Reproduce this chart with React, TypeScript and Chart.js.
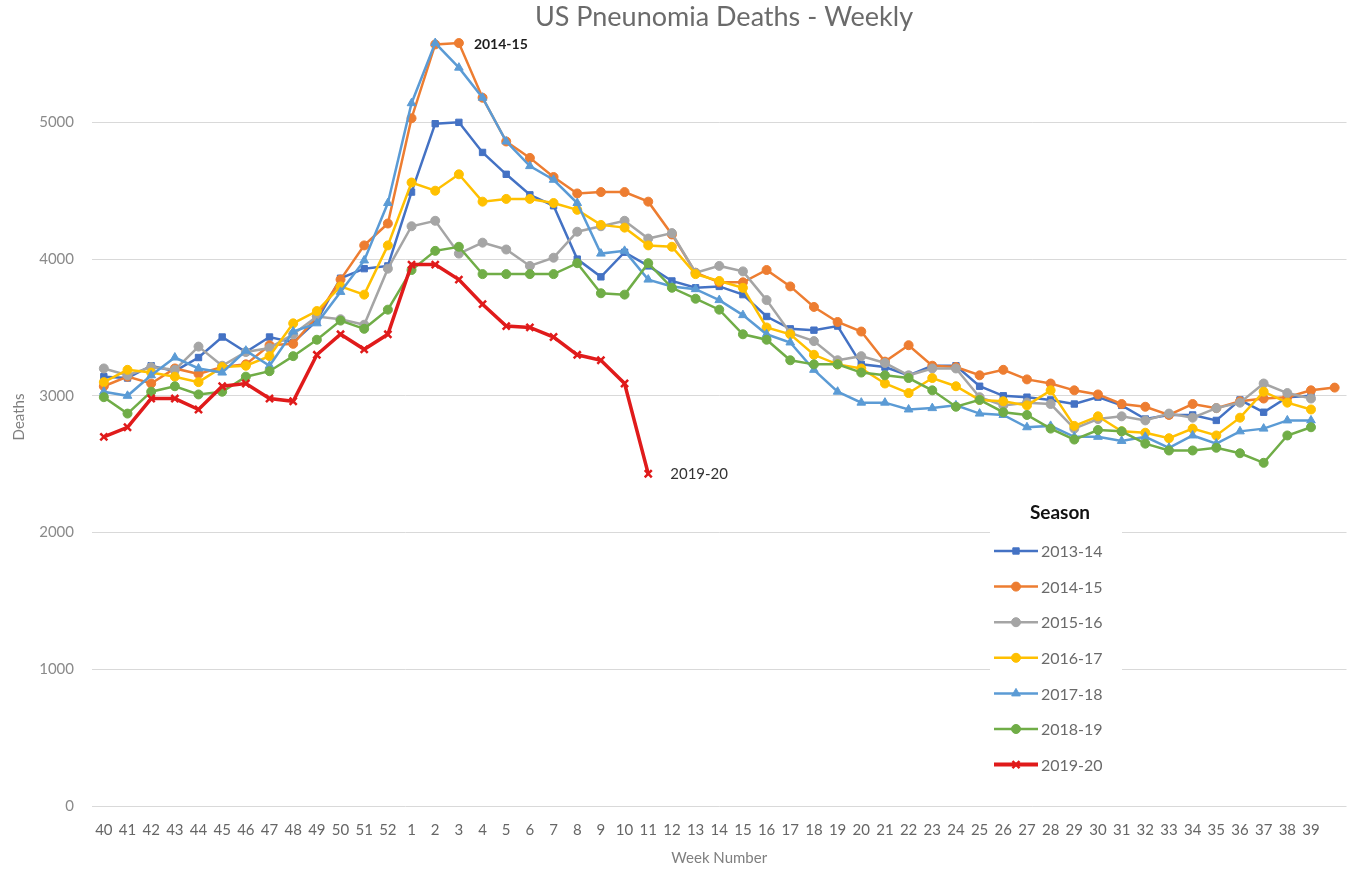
import React, { useEffect, useRef } from "react";
import { Chart, registerables } from "chart.js";
import { drawPoint } from "chart.js/helpers";

Chart.register(...registerables);

const weeks = [
  "40", "41", "42", "43", "44", "45", "46", "47", "48", "49", "50", "51", "52",
  "1", "2", "3", "4", "5", "6", "7", "8", "9", "10", "11", "12", "13", "14", "15",
  "16", "17", "18", "19", "20", "21", "22", "23", "24", "25", "26", "27", "28", "29",
  "30", "31", "32", "33", "34", "35", "36", "37", "38", "39", "",
];

const s2013_14 = [
  3140, 3130, 3220, 3180, 3280, 3430, 3320, 3430, 3390, 3550, 3860, 3930, 3950,
  4490, 4990, 5000, 4780, 4620, 4470, 4390, 4000, 3870, 4050, 3950, 3840, 3790, 3800, 3740,
  3580, 3490, 3480, 3510, 3230, 3210, 3150, 3220, 3220, 3070, 3000, 2990, 2970, 2940,
  2990, 2930, 2830, 2860, 2860, 2820, 2970, 2880, 2990, 3000,
];
const s2014_15 = [
  3070, 3140, 3090, 3200, 3160, 3210, 3230, 3370, 3380, 3580, 3850, 4100, 4260,
  5030, 5570, 5580, 5180, 4860, 4740, 4600, 4480, 4490, 4490, 4420, 4180, 3900, 3830, 3830,
  3920, 3800, 3650, 3540, 3470, 3250, 3370, 3220, 3210, 3150, 3190, 3120, 3090, 3040,
  3010, 2940, 2920, 2860, 2940, 2910, 2960, 2980, 2990, 3040, 3060,
];
const s2015_16 = [
  3200, 3150, 3210, 3190, 3360, 3220, 3320, 3350, 3450, 3580, 3560, 3520, 3930,
  4240, 4280, 4040, 4120, 4070, 3950, 4010, 4200, 4240, 4280, 4150, 4190, 3900, 3950, 3910,
  3700, 3460, 3400, 3260, 3290, 3240, 3150, 3200, 3200, 2990, 2930, 2950, 2940, 2760,
  2830, 2850, 2820, 2870, 2840, 2910, 2950, 3090, 3020, 2980,
];
const s2016_17 = [
  3100, 3190, 3170, 3140, 3100, 3210, 3220, 3290, 3530, 3620, 3800, 3740, 4100,
  4560, 4500, 4620, 4420, 4440, 4440, 4410, 4360, 4250, 4230, 4100, 4090, 3890, 3840, 3790,
  3500, 3450, 3300, 3230, 3200, 3090, 3020, 3130, 3070, 2970, 2960, 2930, 3040, 2780,
  2850, 2740, 2730, 2690, 2760, 2710, 2840, 3030, 2950, 2900,
];
const s2017_18 = [
  3030, 3000, 3150, 3280, 3200, 3170, 3330, 3220, 3470, 3530, 3760, 3990, 4410,
  5140, 5580, 5400, 5180, 4860, 4680, 4580, 4410, 4040, 4060, 3850, 3800, 3780, 3700, 3590,
  3450, 3390, 3190, 3030, 2950, 2950, 2900, 2910, 2930, 2870, 2860, 2770, 2780, 2700,
  2700, 2670, 2700, 2620, 2710, 2650, 2740, 2760, 2820, 2820,
];
const s2018_19 = [
  2990, 2870, 3030, 3070, 3010, 3030, 3140, 3180, 3290, 3410, 3550, 3490, 3630,
  3920, 4060, 4090, 3890, 3890, 3890, 3890, 3970, 3750, 3740, 3970, 3790, 3710, 3630, 3450,
  3410, 3260, 3230, 3230, 3170, 3150, 3130, 3040, 2920, 2970, 2880, 2860, 2760, 2680,
  2750, 2740, 2650, 2600, 2600, 2620, 2580, 2510, 2710, 2770,
];
const s2019_20 = [
  2700, 2770, 2980, 2980, 2900, 3070, 3090, 2980, 2960, 3300, 3450, 3340, 3450,
  3960, 3960, 3850, 3670, 3510, 3500, 3430, 3300, 3260, 3090, 2430,
];

const seasonNames = ["2013-14", "2014-15", "2015-16", "2016-17", "2017-18", "2018-19", "2019-20"];
const seasonData = [s2013_14, s2014_15, s2015_16, s2016_17, s2017_18, s2018_19, s2019_20];
const seasonColors = ["#4472C4", "#ED7D31", "#A5A5A5", "#FFC000", "#5B9BD5", "#70AD47", "#E01B1B"];
const seasonMarkers = ["rect", "circle", "circle", "circle", "triangle", "circle", "crossRot"];

const yTicks = [0, 1000, 2000, 3000, 4000, 5000];

const FONT = "Lato, 'Open Sans', sans-serif";

const overlayPlugin = {
  id: "overlay",
  afterDraw(chart: any) {
    const ctx = chart.ctx;
    ctx.save();
    // Title
    ctx.fillStyle = "#6b6b6b";
    ctx.font = `27px ${FONT}`;
    ctx.textAlign = "center";
    ctx.textBaseline = "middle";
    ctx.fillText("US Pneunomia Deaths - Weekly", 724, 17);

    // Series end labels
    const m1 = chart.getDatasetMeta(1).data[15];
    ctx.font = `bold 14px ${FONT}`;
    ctx.fillStyle = "#1e1e1e";
    ctx.textAlign = "left";
    ctx.fillText("2014-15", m1.x + 15, m1.y + 1);
    const m6 = chart.getDatasetMeta(6).data[s2019_20.length - 1];
    ctx.font = `15px ${FONT}`;
    ctx.fillStyle = "#333333";
    ctx.fillText("2019-20", m6.x + 22, m6.y);

    // Legend
    ctx.fillStyle = "#ffffff";
    ctx.fillRect(990, 497, 132, 285);
    ctx.fillStyle = "#111111";
    ctx.font = `bold 19px ${FONT}`;
    ctx.textAlign = "center";
    ctx.fillText("Season", 1060, 513);
    const y0 = 551;
    const step = 35.6;
    seasonNames.forEach((name, i) => {
      const y = y0 + i * step;
      const ds = chart.data.datasets[i];
      ctx.strokeStyle = seasonColors[i];
      ctx.lineWidth = i === 6 ? 4 : 2.5;
      ctx.beginPath();
      ctx.moveTo(994, y);
      ctx.lineTo(1038, y);
      ctx.stroke();
      ctx.fillStyle = seasonColors[i];
      ctx.strokeStyle = seasonColors[i];
      ctx.lineWidth = ds.pointBorderWidth;
      drawPoint(ctx, { pointStyle: seasonMarkers[i], radius: ds.pointRadius, borderWidth: ds.pointBorderWidth, rotation: 0 }, 1016, y);
      ctx.fillStyle = "#6a6a6a";
      ctx.font = `16px ${FONT}`;
      ctx.textAlign = "left";
      ctx.fillText(name, 1041, y + 1);
    });
    ctx.restore();
  },
};

export default function App() {
  const ref = useRef<HTMLCanvasElement | null>(null);

  useEffect(() => {
    if (!ref.current) return;
    const datasets = seasonNames.map((name, i) => ({
      label: name,
      data: seasonData[i],
      borderColor: seasonColors[i],
      backgroundColor: seasonColors[i],
      borderWidth: i === 6 ? 3.5 : 2.5,
      pointStyle: seasonMarkers[i],
      pointRadius: i === 6 ? 5 : i === 4 ? 5 : 4.5,
      pointBorderWidth: i === 6 ? 2.5 : 1,
      pointBackgroundColor: seasonColors[i],
      pointBorderColor: seasonColors[i],
      tension: 0,
      fill: false,
      order: 7 - i,
    }));

    const chart = new Chart(ref.current, {
      type: "line",
      data: { labels: weeks, datasets },
      plugins: [overlayPlugin],
      options: {
        responsive: false,
        animation: false,
        devicePixelRatio: 1,
        layout: { padding: { top: 28, right: 0, bottom: 0, left: 0 } },
        plugins: {
          legend: { display: false },
          title: { display: false },
          tooltip: { enabled: false },
        },
        scales: {
          x: {
            type: "category",
            offset: true,
            grid: { display: false, drawTicks: false },
            border: { display: false },
            ticks: {
              autoSkip: false,
              maxRotation: 0,
              minRotation: 0,
              color: "#666666",
              font: { family: FONT, size: 15 },
              padding: 15,
            },
            title: {
              display: true,
              text: "Week Number",
              color: "#7f7f7f",
              font: { family: FONT, size: 15 },
              padding: { top: 0, bottom: 2 },
            },
            afterFit: (scale: any) => {
              scale.height = 63;
            },
          },
          y: {
            min: 0,
            max: 5690,
            grid: { color: "#D9D9D9", lineWidth: 1, drawTicks: false },
            border: { display: false },
            ticks: {
              stepSize: 1000,
              color: "#8a8a8a",
              font: { family: FONT, size: 15 },
              padding: 18,
              callback: (v: any) => String(v),
            },
            afterBuildTicks: (scale: any) => {
              scale.ticks = yTicks.map((v) => ({ value: v }));
            },
            title: {
              display: true,
              text: "Deaths",
              color: "#7f7f7f",
              font: { family: FONT, size: 15 },
              padding: { top: 10, bottom: 0 },
            },
            afterFit: (scale: any) => {
              scale.width = 92;
            },
          },
        },
      },
    });
    return () => chart.destroy();
  }, []);

  return (
    <div
      style={{
        position: "fixed",
        left: 0,
        top: 0,
        width: 1354,
        height: 869,
        overflow: "hidden",
        background: "#ffffff",
      }}
    >
      <canvas ref={ref} width={1354} height={869} style={{ width: 1354, height: 869, display: "block" }} />
    </div>
  );
}
